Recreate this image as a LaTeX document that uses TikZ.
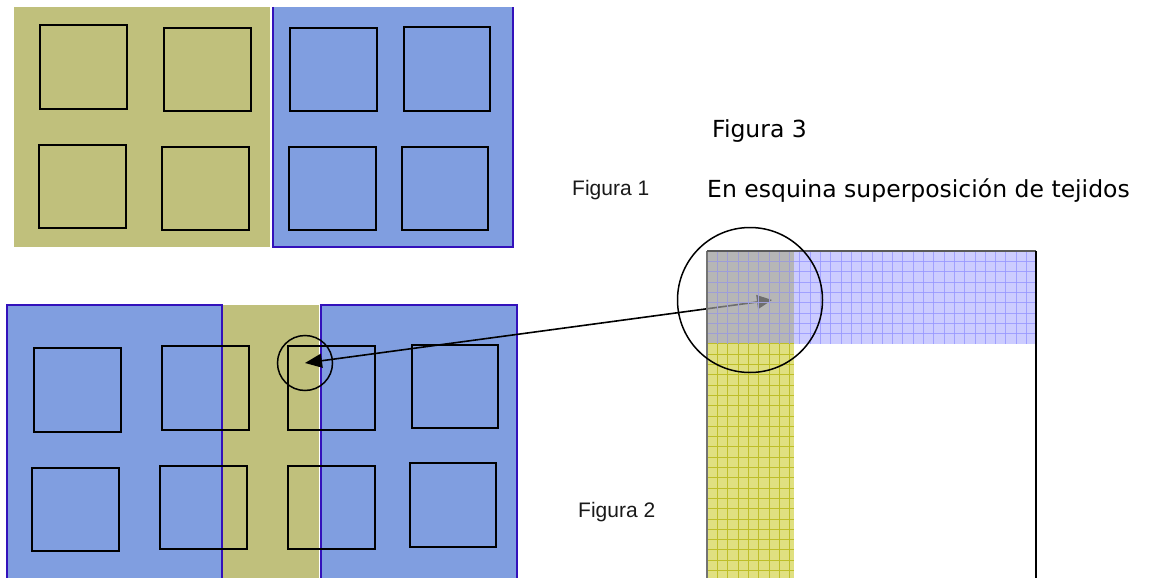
\documentclass[tikz,border=0pt]{standalone}
\usepackage{fontspec}
\usetikzlibrary{arrows.meta}
\newfontfamily\comica{DejaVu Sans}
\newfontfamily\rotulofont{Liberation Sans}
\definecolor{oliva}{RGB}{192,192,124}
\definecolor{azul}{RGB}{128,158,224}
\definecolor{azulborde}{RGB}{51,17,187}
\definecolor{celeste}{RGB}{204,204,255}
\definecolor{celestelinea}{RGB}{150,150,255}
\definecolor{amarillo}{RGB}{224,224,128}
\definecolor{amarillolinea}{RGB}{190,190,40}
\definecolor{gris}{RGB}{182,182,182}

\begin{document}
\begin{tikzpicture} [x=1pt, y=-1pt,
    ventana/.style={draw, line width=1.6pt, minimum width=86.5pt, minimum height=83.5pt, inner sep=0pt},
    lupa/.style={draw, circle, line width=1.5pt, inner sep=0pt},
    titulo/.style={font=\comica\fontsize{23.5}{28}\selectfont, inner sep=0pt, anchor=base west},
    rotulo/.style={font=\rotulofont\fontsize{21}{25}\selectfont, inner sep=0pt, anchor=base west, text=black!90}]
    \useasboundingbox (0,0) rectangle (1157,578);

    % figura 1
    \fill [oliva] (14,7) rectangle (270,247);
    \fill [azul] (273,7) rectangle (513,247);
    \draw [azulborde, line width=1.2pt] (273,7) -- (273,247) -- (513,247) -- (513,7);
    \node (a1) [ventana] at (83.5,67) {};
    \node (a2) [ventana] at (207.5,69.5) {};
    \node (a3) [ventana] at (82.5,186.5) {};
    \node (a4) [ventana] at (205.5,188.5) {};
    \node (a5) [ventana] at (333.5,69.5) {};
    \node (a6) [ventana] at (447,69) {};
    \node (a7) [ventana] at (332.5,188.5) {};
    \node (a8) [ventana] at (445,188.5) {};

    % figura 2
    \fill [azul] (7,305) rectangle (222,578);
    \fill [oliva] (222,305) rectangle (319,578);
    \fill [azul] (321,305) rectangle (517,578);
    \draw [azulborde, line width=1.2pt] (7,578) -- (7,305) -- (222,305) -- (222,578);
    \draw [azulborde, line width=1.2pt] (321,578) -- (321,305) -- (517,305) -- (517,578);
    \node (b1) [ventana] at (77.5,390) {};
    \node (b2) [ventana] at (205.5,388) {};
    \node (b3) [ventana] at (331.5,388) {};
    \node (b4) [ventana] at (455,386.5) {};
    \node (b5) [ventana] at (75.5,509.5) {};
    \node (b6) [ventana] at (203.5,507.5) {};
    \node (b7) [ventana] at (331.5,507.5) {};
    \node (b8) [ventana] at (453,505) {};
    \node (detalle) [lupa, minimum size=55pt] at (305,363) {};

    % figura 3
    \fill [amarillo] (707,251) rectangle (794,578);
    \fill [celeste] (707,251) rectangle (1035,344);
    \fill [gris] (707,251) rectangle (794,344);
    \coordinate (punta) at (772,300);
    \draw [{Triangle[length=17pt,width=14pt]}-{Triangle[length=15pt,width=14pt]}, line width=1.6pt]
        (detalle.center) -- (punta);
    \fill [gris, opacity=0.6] (707,251) rectangle (794,344);
    \foreach \i in {1,...,8}
        \draw [amarillolinea, line width=0.6pt] ({707+10.3*\i},251) -- ({707+10.3*\i},578);
    \foreach \j in {1,...,31}
        \draw [amarillolinea, line width=0.6pt] (707,{251+10.3*\j}) -- (794,{251+10.3*\j});
    \foreach \i in {1,...,31}
        \draw [celestelinea, line width=0.6pt, opacity=0.8] ({707+10.3*\i},251) -- ({707+10.3*\i},344);
    \foreach \j in {1,...,8}
        \draw [celestelinea, line width=0.6pt, opacity=0.8] (707,{251+10.3*\j}) -- (1035,{251+10.3*\j});
    \draw [black!55, line width=1.2pt] (707,578) -- (707,251);
    \draw [black!65, line width=1.4pt] (707,251) -- (1036,251);
    \draw [black, line width=1.8pt] (1036,251) -- (1036,578);
    \node (esquina) [lupa, minimum size=145pt] at (750,300) {};

    \node (fig3) [titulo] at (712,137) {Figura 3};
    \node (leyenda) [titulo] at (707,197) {En esquina superposición de tejidos};
    \node (fig1) [rotulo] at (572,195) {Figura 1};
    \node (fig2) [rotulo] at (578,517) {Figura 2};
\end{tikzpicture}
\end{document}
